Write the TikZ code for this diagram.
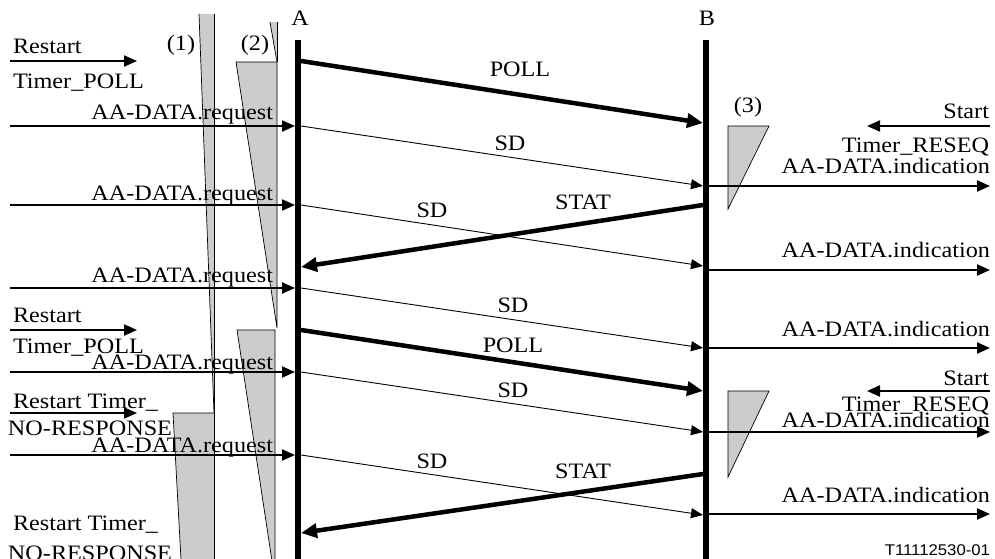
\documentclass[tikz,border=0pt]{standalone}
\usepackage{fontspec}
\setmainfont{Liberation Serif}[FakeStretch=1.1]
\newfontfamily\labelsans{Liberation Sans}[FakeStretch=1.08]
\usetikzlibrary{arrows.meta}
\definecolor{timergray}{RGB}{204,204,204}
\begin{document}
\begin{tikzpicture}[x=1pt,y=-1pt,
  font=\fontsize{22}{26}\selectfont,
  lifeline/.style={line width=5.5pt},
  thinmsg/.style={line width=0.9pt,-{Triangle[length=12pt,width=10pt]}},
  thickmsg/.style={line width=4.5pt,-{Triangle[length=16pt,width=14pt]}},
  sidearrow/.style={line width=2pt,-{Triangle[length=13pt,width=11pt]}},
  txt/.style={inner sep=0pt,outer sep=0pt},
  timerfill/.style={fill=timergray},
  timeredge/.style={line width=0.7pt}]
\useasboundingbox (0,0) rectangle (995,559);

% ---------- timers (drawn first, below the lines) ----------
% (1)
\fill[timerfill] (199,14) -- (214,14) -- (214,413) -- cycle;
\fill[timerfill] (173,413) -- (214,413) -- (214,565) -- (181.3,565) -- cycle;
\draw[timeredge] (199,14) -- (214,413);
\draw[timeredge] (214,14) -- (214,565);
\draw[timeredge] (214,413) -- (173,413) -- (181.3,565);
% (2)
\fill[timerfill] (270,22) -- (277,22) -- (277,62) -- cycle;
\draw[timeredge] (270,22) -- (277,62);
\draw[timeredge] (277,22) -- (277,62);
\fill[timerfill] (236,62) -- (277,62) -- (277,328) -- cycle;
\draw[timeredge] (277,328) -- (277,62) -- (236,62) -- (277,328);
\fill[timerfill] (237,330) -- (275,330) -- (275,565) -- (272.6,565) -- cycle;
\draw[timeredge] (275,565) -- (275,330) -- (237,330) -- (272.6,565);
% (3)
\filldraw[timerfill,timeredge] (728,126) -- (769,126) -- (728,209) -- cycle;
\filldraw[timerfill,timeredge] (728,391) -- (769,391) -- (728,477) -- cycle;

% ---------- lifelines ----------
\node[txt,anchor=base] (labA) at (300,26) {A};
\node[txt,anchor=base] (labB) at (707,26) {B};
\coordinate (Atop) at (298,40);
\coordinate (Abot) at (298,565);
\coordinate (Btop) at (706,40);
\coordinate (Bbot) at (706,565);
\draw[lifeline] (Atop) -- (Abot);
\draw[lifeline] (Btop) -- (Bbot);

% ---------- messages between A and B ----------
\coordinate (p1s) at (301,61);  \coordinate (p1e) at (703,123);
\coordinate (s1s) at (301,126); \coordinate (s1e) at (703,186);
\coordinate (s2s) at (301,205); \coordinate (s2e) at (703,266);
\coordinate (t1s) at (703,205); \coordinate (t1e) at (301,267);
\coordinate (s3s) at (301,288); \coordinate (s3e) at (703,348);
\coordinate (p2s) at (301,330); \coordinate (p2e) at (703,391);
\coordinate (s4s) at (301,372); \coordinate (s4e) at (703,432);
\coordinate (s5s) at (301,455); \coordinate (s5e) at (703,515);
\coordinate (t2s) at (703,474); \coordinate (t2e) at (301,533);

\draw[thickmsg] (p1s) -- (p1e);
\draw[thinmsg] (s1s) -- (s1e);
\draw[thinmsg] (s2s) -- (s2e);
\draw[thickmsg] (t1s) -- (t1e);
\draw[thinmsg] (s3s) -- (s3e);
\draw[thickmsg] (p2s) -- (p2e);
\draw[thinmsg] (s4s) -- (s4e);
\draw[thinmsg] (s5s) -- (s5e);
\draw[thickmsg] (t2s) -- (t2e);

\node[txt,anchor=base] (lp1) at (520,77) {POLL};
\node[txt,anchor=base] (ls1) at (510,150) {SD};
\node[txt,anchor=base] (ls2) at (432,217) {SD};
\node[txt,anchor=base] (lt1) at (583,209) {STAT};
\node[txt,anchor=base] (ls3) at (513,312) {SD};
\node[txt,anchor=base] (lp2) at (513,352) {POLL};
\node[txt,anchor=base] (ls4) at (513,397) {SD};
\node[txt,anchor=base] (ls5) at (432,468) {SD};
\node[txt,anchor=base] (lt2) at (583,478) {STAT};

% ---------- left side: requests ----------
\foreach \n/\y in {1/126,2/205,3/288,4/372,5/455}{
  \coordinate (rq\n s) at (10,\y);
  \coordinate (rq\n e) at (295,\y);
  \draw[sidearrow] (rq\n s) -- (rq\n e);
}
\node[txt,anchor=base east] (lrq1) at (273,120) {AA-DATA.request};
\node[txt,anchor=base east] (lrq2) at (273,200) {AA-DATA.request};
\node[txt,anchor=base east] (lrq3) at (273,282) {AA-DATA.request};
\node[txt,anchor=base east] (lrq4) at (273,369) {AA-DATA.request};
\node[txt,anchor=base east] (lrq5) at (273,452) {AA-DATA.request};

% ---------- left side: restarts ----------
\foreach \n/\y in {1/61,2/330,3/413}{
  \coordinate (rs\n s) at (10,\y);
  \coordinate (rs\n e) at (137,\y);
  \draw[sidearrow] (rs\n s) -- (rs\n e);
}
\node[txt,anchor=base west] (lrs1a) at (13,54) {Restart};
\node[txt,anchor=base west] (lrs1b) at (13,89) {Timer\_POLL};
\node[txt,anchor=base west] (lrs2a) at (13,322) {Restart};
\node[txt,anchor=base west] (lrs2b) at (13,353) {Timer\_POLL};
\node[txt,anchor=base west] (lrs3a) at (13,408) {Restart Timer\_};
\node[txt,anchor=base west] (lrs3b) at (8,435) {NO-RESPONSE};
\node[txt,anchor=base west] (lrs4a) at (13,530) {Restart Timer\_};
\node[txt,anchor=base west] (lrs4b) at (8,560) {NO-RESPONSE};

\node[txt,anchor=base] (lt1no) at (181,51) {(1)};
\node[txt,anchor=base] (lt2no) at (255,51) {(2)};
\node[txt,anchor=base] (lt3no) at (748,113) {(3)};

% ---------- right side: indications ----------
\foreach \n/\y in {1/186,2/270,3/348,4/432,5/514}{
  \coordinate (in\n s) at (706,\y);
  \coordinate (in\n e) at (990,\y);
  \draw[sidearrow] (in\n s) -- (in\n e);
}
\node[txt,anchor=base east] (lin1) at (990,173) {AA-DATA.indication};
\node[txt,anchor=base east] (lin2) at (990,257) {AA-DATA.indication};
\node[txt,anchor=base east] (lin3) at (990,336) {AA-DATA.indication};
\node[txt,anchor=base east] (lin4) at (990,427) {AA-DATA.indication};
\node[txt,anchor=base east] (lin5) at (990,502) {AA-DATA.indication};

% ---------- right side: Start Timer_RESEQ ----------
\foreach \n/\y in {1/126,2/391}{
  \coordinate (rsq\n s) at (990,\y);
  \coordinate (rsq\n e) at (867,\y);
  \draw[sidearrow] (rsq\n s) -- (rsq\n e);
}
\node[txt,anchor=base east] (lsq1a) at (989,118) {Start};
\node[txt,anchor=base east] (lsq1b) at (989,152) {Timer\_RESEQ};
\node[txt,anchor=base east] (lsq2a) at (989,385) {Start};
\node[txt,anchor=base east] (lsq2b) at (989,411) {Timer\_RESEQ};

\node[txt,anchor=base east,font=\labelsans\fontsize{15.5}{18}\selectfont] (fig) at (990,555) {T11112530-01};
\end{tikzpicture}
\end{document}
